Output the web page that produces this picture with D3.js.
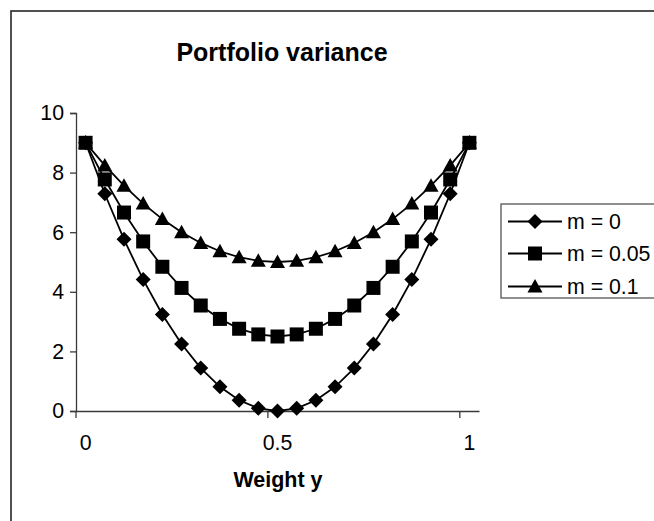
<!DOCTYPE html>
<html>
<head>
<meta charset="utf-8">
<script src="https://cdn.jsdelivr.net/npm/d3@7"></script>
<style>
  html, body { margin: 0; padding: 0; background: #fff; }
  svg { display: block; }
  text { font-family: "Liberation Sans", Arial, sans-serif; fill: #000; }
</style>
</head>
<body>
<svg id="chart" width="654" height="521"></svg>
<script>
// Weight y categories (x axis) and portfolio variance per series
const weights = ["0","0.05","0.1","0.15","0.2","0.25","0.3","0.35","0.4","0.45","0.5",
                 "0.55","0.6","0.65","0.7","0.75","0.8","0.85","0.9","0.95","1"];
const varM0   = [9,7.29,5.76,4.41,3.24,2.25,1.44,0.81,0.36,0.09,0,
                 0.09,0.36,0.81,1.44,2.25,3.24,4.41,5.76,7.29,9];
const varM005 = [9,7.77,6.66,5.69,4.84,4.13,3.54,3.09,2.76,2.57,2.5,
                 2.57,2.76,3.09,3.54,4.13,4.84,5.69,6.66,7.77,9];
const varM01  = [9,8.24,7.56,6.96,6.44,6,5.64,5.36,5.16,5.04,5,
                 5.04,5.16,5.36,5.64,6,6.44,6.96,7.56,8.24,9];
const seriesNames = ["m = 0", "m = 0.05", "m = 0.1"];
const yTicks = [0, 2, 4, 6, 8, 10];
const xLabelCats = ["0", "0.5", "1"];
const xTickCats = ["0", "0.5", "1"];

const series = [
  { name: seriesNames[0], values: varM0,   shape: "diamond" },
  { name: seriesNames[1], values: varM005, shape: "square" },
  { name: seriesNames[2], values: varM01,  shape: "triangle" }
];

const svg = d3.select("#chart");
const FONT = 21.3;

// chart frame
svg.append("rect")
  .attr("x", 11).attr("y", 11)
  .attr("width", 700).attr("height", 560)
  .attr("fill", "#fff").attr("stroke", "#262626").attr("stroke-width", 1.6);

const plot = { left: 76, right: 479, top: 113, bottom: 411 };

const x = d3.scaleBand().domain(weights).range([plot.left, plot.right]).padding(0);
const xc = c => x(c) + x.bandwidth() / 2;
const y = d3.scaleLinear().domain([0, 10]).range([plot.bottom, plot.top]);

// title
svg.append("text")
  .attr("x", 282).attr("y", 61)
  .attr("text-anchor", "middle")
  .style("font-size", "25px").style("font-weight", "bold")
  .text("Portfolio variance");

// y axis
const yAxis = d3.axisLeft(y).tickValues(yTicks).tickSize(6).tickPadding(6).tickFormat(d3.format("d"));
const gy = svg.append("g").attr("transform", `translate(${plot.left},0)`).call(yAxis);
gy.select(".domain").attr("stroke", "#3a3a3a").attr("stroke-width", 1.3);
gy.selectAll(".tick line").attr("stroke", "#3a3a3a").attr("stroke-width", 1.3);
gy.selectAll(".tick text").style("font-size", FONT + "px").attr("fill", "#000")
  .style("font-family", "'Liberation Sans', Arial, sans-serif");

// x axis: labels centred on categories, tick marks on category boundaries
const xAxis = d3.axisBottom(x).tickValues(xLabelCats).tickSize(0).tickPadding(0).tickSizeOuter(0);
const gx = svg.append("g").attr("transform", `translate(0,${plot.bottom})`).call(xAxis);
gx.select(".domain").attr("stroke", "#3a3a3a").attr("stroke-width", 1.3);
gx.selectAll(".tick text").style("font-size", FONT + "px").attr("fill", "#000")
  .attr("y", 39).attr("dy", null)
  .style("font-family", "'Liberation Sans', Arial, sans-serif");
gx.selectAll(".tick-mark").data(xTickCats).enter().append("line")
  .attr("x1", d => x(d)).attr("x2", d => x(d))
  .attr("y1", 0).attr("y2", 7)
  .attr("stroke", "#3a3a3a").attr("stroke-width", 1.3);

// x axis title
svg.append("text")
  .attr("x", 278).attr("y", 487)
  .attr("text-anchor", "middle")
  .style("font-size", "21.5px").style("font-weight", "bold")
  .text("Weight y");

// marker symbols
function markerPath(shape) {
  if (shape === "diamond") return "M0,-7.5L7.5,0L0,7.5L-7.5,0Z";
  if (shape === "square") return "M-7,-7H7V7H-7Z";
  return "M0,-7.5L7.5,6L-7.5,6Z";
}

const line = d3.line()
  .x((d, i) => xc(weights[i]))
  .y(d => y(d));

series.forEach(s => {
  const g = svg.append("g");
  g.append("path")
    .attr("d", line(s.values))
    .attr("fill", "none").attr("stroke", "#000").attr("stroke-width", 1.8);
  g.selectAll("path.mk").data(s.values).enter().append("path")
    .attr("class", "mk")
    .attr("transform", (d, i) => `translate(${xc(weights[i])},${y(d)})`)
    .attr("d", markerPath(s.shape))
    .attr("fill", "#000");
});

// legend
const legend = svg.append("g");
legend.append("rect")
  .attr("x", 501).attr("y", 204)
  .attr("width", 200).attr("height", 94)
  .attr("fill", "#fff").attr("stroke", "#555").attr("stroke-width", 1.3);
const legendRows = [221.5, 253.5, 286.5];
series.forEach((s, i) => {
  const yy = legendRows[i];
  legend.append("line")
    .attr("x1", 508).attr("x2", 562).attr("y1", yy).attr("y2", yy)
    .attr("stroke", "#000").attr("stroke-width", 1.8);
  legend.append("path")
    .attr("transform", `translate(535,${yy})`)
    .attr("d", markerPath(s.shape)).attr("fill", "#000");
  legend.append("text")
    .attr("x", 567).attr("y", yy).attr("dy", "0.36em")
    .style("font-size", FONT + "px")
    .text(s.name);
});
</script>
</body>
</html>
